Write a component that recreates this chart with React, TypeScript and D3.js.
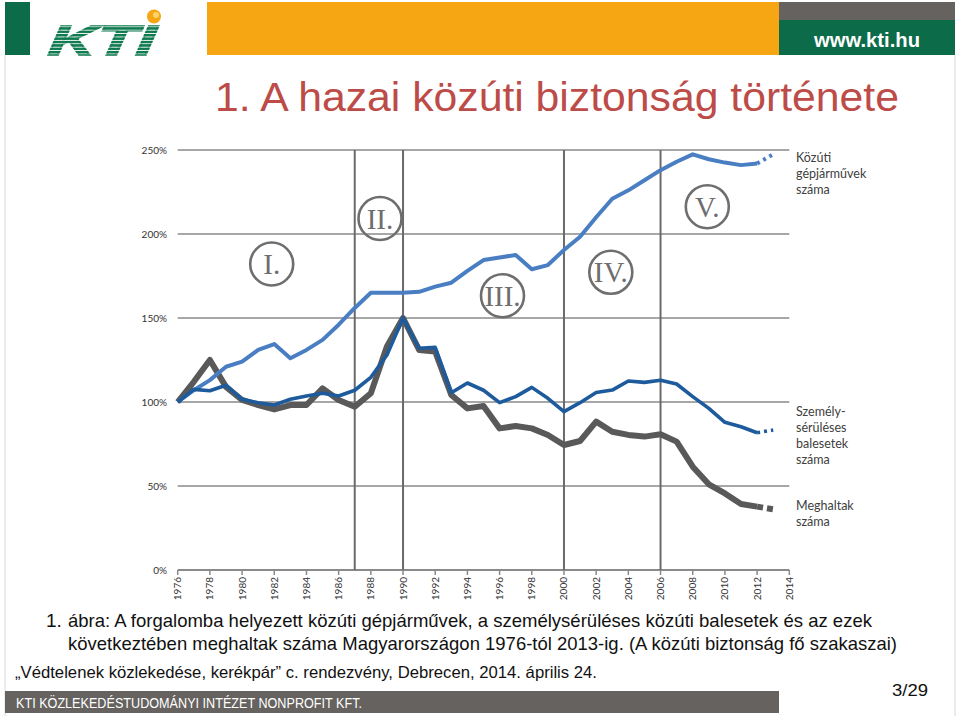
import React from "react";
import * as d3 from "d3";

const years = d3.range(1976, 2014);
// Közúti gépjárművek száma (1976 = 100%)
const vehicles = [100, 107, 113, 121, 124, 131, 134.5, 126, 131, 137, 146, 156, 165, 165, 165, 165.6, 168.7, 171, 178, 184.5, 186, 187.5, 179, 181.5, 190.5, 198.4, 210, 221, 226, 232, 238, 243, 247.4, 244.5, 242.5, 241, 242, 247.4];
// Személysérüléses balesetek száma
const injuries = [100, 107.5, 106.7, 110, 101.6, 99.6, 98.2, 101.6, 103.6, 105.2, 103.6, 107, 114.7, 128, 150, 132, 132.5, 105.5, 111.3, 107, 99.6, 103.2, 108.7, 102.2, 94.3, 99.6, 105.6, 107.1, 112.5, 111.7, 113, 110.7, 103.2, 96.2, 87.9, 85.3, 81.7, 83.3];
// Meghaltak száma
const deaths = [100, 112, 125, 109, 101.2, 98.2, 95.6, 98.2, 98.2, 108.1, 101.2, 97.2, 105.2, 133, 150, 131, 130, 104.2, 96.2, 97.6, 84.3, 85.7, 84.3, 80.4, 74.4, 76.8, 88.3, 82.3, 80.4, 79.4, 80.8, 76.4, 61.5, 51, 45.6, 39.3, 37.7, 36.1];

const yTicks = [0, 50, 100, 150, 200, 250];
const xTicks = d3.range(1976, 2015, 2);
const periodLines = [1987, 1990, 2000, 2006];
const periods = [
  { label: "I.", cx: 271.7, cy: 264 },
  { label: "II.", cx: 380, cy: 218.5 },
  { label: "III.", cx: 502.5, cy: 295.7 },
  { label: "IV.", cx: 610.8, cy: 272.3 },
  { label: "V.", cx: 707.3, cy: 206.7 },
];
const legendVehicles = ["Közúti", "gépjárművek", "száma"];
const legendInjuries = ["Személy-", "sérüléses", "balesetek", "száma"];
const legendDeaths = ["Meghaltak", "száma"];

const title = "1. A hazai közúti biztonság története";
const caption1 = "ábra: A forgalomba helyezett közúti gépjárművek, a személysérüléses közúti balesetek és az ezek";
const caption2 = "következtében meghaltak száma Magyarországon 1976-tól 2013-ig. (A közúti biztonság fő szakaszai)";
const footer = "„Védtelenek közlekedése, kerékpár” c. rendezvény, Debrecen, 2014. április 24.";
const pageNo = "3/29";
const orgName = "KTI KÖZLEKEDÉSTUDOMÁNYI INTÉZET NONPROFIT KFT.";

const GREEN = "#0c6b49";
const ORANGE = "#f6a613";
const BARGRAY = "#656260";
const LIGHTBLUE = "#4a7ec3";
const DARKBLUE = "#1d5b9d";
const DGRAY = "#595959";

export default function App() {
  const x = d3.scaleLinear().domain([1976, 2014]).range([177.7, 789.3]);
  const y = d3.scaleLinear().domain([0, 250]).range([570, 150]);
  const line = d3
    .line<[number, number]>()
    .x((d) => x(d[0]))
    .y((d) => y(d[1]));

  const series = [
    { vals: injuries, color: DARKBLUE, w: 3.6, dash: "3,4" },
    { vals: deaths, color: DGRAY, w: 6, dash: "6,4" },
    { vals: vehicles, color: LIGHTBLUE, w: 4, dash: "3,4" },
  ];
  const order = [series[1], series[2], series[0]];

  return (
    <div style={{ position: "absolute", left: 0, top: 0, width: 960, height: 716, background: "#fff" }}>
      <svg width={960} height={716} style={{ display: "block" }}>
        <defs>
          <pattern id="stripes" width="6" height="3.4" patternUnits="userSpaceOnUse">
            <rect width="6" height="2.5" fill="#0f7a4f" />
          </pattern>
        </defs>
        <rect width={960} height={716} fill="#fff" />
        {/* page frame */}
        <line x1={5} x2={5} y1={55} y2={716} stroke="#d8d8d8" strokeWidth={1} />
        <line x1={955} x2={955} y1={55} y2={716} stroke="#d8d8d8" strokeWidth={1} />

        {/* header */}
        <rect x={5} y={2} width={25} height={53} fill={GREEN} />
        <rect x={207} y={2} width={572} height={53} fill={ORANGE} />
        <rect x={779} y={2} width={176} height={18} fill={BARGRAY} />
        <rect x={779} y={20} width={176} height={35} fill={GREEN} />
        <text x={867} y={47} textAnchor="middle" fill="#fff" fontFamily="Liberation Sans, Arial, sans-serif" fontWeight="bold" fontSize={21} textLength={106} lengthAdjust="spacingAndGlyphs">www.kti.hu</text>
        {/* KTI logo */}
        <text x={48} y={55} fill="url(#stripes)" stroke="url(#stripes)" strokeWidth={1.5} fontFamily="Liberation Sans, Arial, sans-serif" fontWeight="900" fontStyle="italic" fontSize={42} textLength={106} lengthAdjust="spacingAndGlyphs" transform="skewX(-8) translate(7,0)">KTI</text>
        <circle cx={154} cy={16.5} r={7} fill={ORANGE} />
        <circle cx={156} cy={15} r={3} fill="#fbd36a" />

        {/* title */}
        <text x={215} y={111} fill="#bd4b48" fontFamily="Liberation Sans, Arial, sans-serif" fontSize={40} textLength={684} lengthAdjust="spacingAndGlyphs">{title}</text>

        {/* grid */}
        {yTicks.map((t) => (
          <g key={"y" + t}>
            <line x1={x(1976)} x2={x(2014)} y1={y(t)} y2={y(t)} stroke="#8a8a8a" strokeWidth={t === 0 ? 2 : 1.6} />
            <text x={167} y={y(t) + 3.5} textAnchor="end" fontFamily="Lato, sans-serif" fontSize={10} fill="#333">{t}%</text>
          </g>
        ))}
        {xTicks.map((t) => (
          <g key={"x" + t}>
            <line x1={x(t)} x2={x(t)} y1={y(0)} y2={y(0) + 5} stroke="#8a8a8a" strokeWidth={1.5} />
            <text transform={`translate(${x(t) + 3.5},${y(0) + 7}) rotate(-90)`} textAnchor="end" fontFamily="Lato, sans-serif" fontSize={10} fill="#333">{t}</text>
          </g>
        ))}
        {periodLines.map((p) => (
          <line key={"p" + p} x1={x(p)} x2={x(p)} y1={y(250)} y2={y(0)} stroke="#6a6a6a" strokeWidth={2} />
        ))}

        {/* series */}
        {order.map((s, i) => {
          const pts: [number, number][] = years.map((yr, j) => [yr, s.vals[j]]);
          const solid = pts.slice(0, pts.length - 1);
          const tail = pts.slice(pts.length - 2);
          return (
            <g key={"s" + i}>
              <path d={line(solid) || ""} fill="none" stroke={s.color} strokeWidth={s.w} strokeLinejoin="round" />
              <path d={line(tail) || ""} fill="none" stroke={s.color} strokeWidth={s.w} strokeDasharray={s.dash} />
            </g>
          );
        })}

        {/* period circles */}
        {periods.map((p) => (
          <g key={p.label}>
            <circle cx={p.cx} cy={p.cy} r={21.5} fill="none" stroke="#6e6e6e" strokeWidth={2.6} />
            <text x={p.cx} y={p.cy + 10} textAnchor="middle" fontFamily="Liberation Serif, serif" fontSize={29} fill="#6e6e6e">{p.label}</text>
          </g>
        ))}

        {/* legend labels */}
        {legendVehicles.map((t, i) => (
          <text key={"lv" + i} x={796} y={162 + i * 16} fontFamily="Lato, sans-serif" fontSize={12.5} fill="#404040">{t}</text>
        ))}
        {legendInjuries.map((t, i) => (
          <text key={"li" + i} x={796} y={416 + i * 16} fontFamily="Lato, sans-serif" fontSize={12.5} fill="#404040">{t}</text>
        ))}
        {legendDeaths.map((t, i) => (
          <text key={"ld" + i} x={796} y={510 + i * 16} fontFamily="Lato, sans-serif" fontSize={12.5} fill="#404040">{t}</text>
        ))}

        {/* caption */}
        <text x={46} y={627} fontFamily="Liberation Sans, Arial, sans-serif" fontSize={19} fill="#111">1.</text>
        <text x={68} y={627} fontFamily="Liberation Sans, Arial, sans-serif" fontSize={19} fill="#111" textLength={804} lengthAdjust="spacingAndGlyphs">{caption1}</text>
        <text x={68} y={650} fontFamily="Liberation Sans, Arial, sans-serif" fontSize={19} fill="#111" textLength={829} lengthAdjust="spacingAndGlyphs">{caption2}</text>
        <text x={15} y={678} fontFamily="Liberation Sans, Arial, sans-serif" fontSize={16.5} fill="#111" textLength={582} lengthAdjust="spacingAndGlyphs">{footer}</text>
        <text x={892} y={696} fontFamily="Liberation Sans, Arial, sans-serif" fontSize={17} fill="#111" textLength={36} lengthAdjust="spacingAndGlyphs">{pageNo}</text>

        {/* bottom bar */}
        <rect x={5} y={691} width={774} height={22} fill={BARGRAY} />
        <text x={16} y={707.5} fontFamily="Liberation Sans, Arial, sans-serif" fontSize={14} fill="#fff" textLength={346} lengthAdjust="spacingAndGlyphs">{orgName}</text>
      </svg>
    </div>
  );
}
